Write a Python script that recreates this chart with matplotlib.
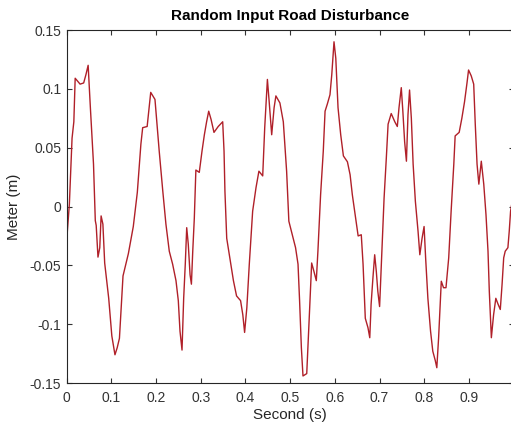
import matplotlib.pyplot as plt

plt.rcParams['font.family'] = ['Liberation Sans', 'DejaVu Sans']

# traced road disturbance (time in s, height in m)
t = [0.000, 0.0015, 0.006, 0.010, 0.012, 0.016, 0.019, 0.030, 0.038, 0.043,
     0.048, 0.053, 0.060, 0.064, 0.066, 0.070, 0.074, 0.077, 0.081, 0.085,
     0.094, 0.101, 0.108, 0.113, 0.118, 0.126, 0.138, 0.149, 0.158, 0.166,
     0.170, 0.180, 0.188, 0.1975, 0.207, 0.215, 0.222, 0.2295, 0.237, 0.2445,
     0.2497, 0.2535, 0.258, 0.2617, 0.2653, 0.2685, 0.272, 0.276, 0.279, 0.282,
     0.2855, 0.289, 0.2966, 0.3027, 0.308, 0.313, 0.3177, 0.323, 0.3295, 0.339,
     0.349, 0.352, 0.354, 0.358, 0.365, 0.373, 0.380, 0.389, 0.394, 0.398,
     0.403, 0.4085, 0.416, 0.4235, 0.430, 0.4385, 0.443, 0.446, 0.449, 0.453,
     0.4586, 0.464, 0.468, 0.477, 0.4846, 0.492, 0.497, 0.5047, 0.512, 0.5175,
     0.521, 0.525, 0.5286, 0.537, 0.540, 0.5436, 0.548, 0.553, 0.5584, 0.562,
     0.568, 0.574, 0.578, 0.583, 0.589, 0.593, 0.598, 0.602, 0.607, 0.613,
     0.619, 0.628, 0.634, 0.639, 0.6465, 0.652, 0.659, 0.663, 0.668, 0.674,
     0.678, 0.681, 0.685, 0.689, 0.6926, 0.696, 0.700, 0.704, 0.710, 0.715,
     0.719, 0.726, 0.734, 0.7396, 0.7434, 0.7485, 0.752, 0.756, 0.760, 0.7635,
     0.767, 0.771, 0.775, 0.780, 0.786, 0.790, 0.795, 0.7995, 0.803, 0.808,
     0.814, 0.819, 0.8246, 0.828, 0.832, 0.838, 0.843, 0.8485, 0.8546, 0.860,
     0.866, 0.869, 0.878, 0.884, 0.890, 0.8955, 0.899, 0.905, 0.9105, 0.914,
     0.918, 0.922, 0.9275, 0.933, 0.938, 0.9425, 0.9454, 0.950, 0.955, 0.960,
     0.965, 0.970, 0.974, 0.9776, 0.981, 0.987, 0.990, 0.993, 1.000]
h = [-0.037, -0.021, 0.002, 0.038, 0.058, 0.072, 0.109, 0.104, 0.105, 0.112,
     0.120, 0.084, 0.036, -0.012, -0.016, -0.043, -0.035, -0.008, -0.015, -0.048,
     -0.078, -0.110, -0.126, -0.120, -0.112, -0.059, -0.040, -0.017, 0.012, 0.053,
     0.067, 0.068, 0.097, 0.091, 0.047, 0.013, -0.015, -0.038, -0.049, -0.063,
     -0.080, -0.106, -0.122, -0.078, -0.049, -0.018, -0.032, -0.058, -0.066, -0.038,
     -0.010, 0.031, 0.029, 0.047, 0.061, 0.072, 0.081, 0.074, 0.063, 0.068,
     0.072, 0.047, 0.013, -0.027, -0.044, -0.063, -0.076, -0.080, -0.092, -0.107,
     -0.086, -0.049, -0.004, 0.016, 0.030, 0.026, 0.067, 0.087, 0.108, 0.089,
     0.061, 0.084, 0.094, 0.088, 0.072, 0.030, -0.0125, -0.024, -0.035, -0.049,
     -0.080, -0.120, -0.144, -0.142, -0.117, -0.086, -0.048, -0.055, -0.063, -0.038,
     0.010, 0.047, 0.081, 0.087, 0.095, 0.112, 0.140, 0.126, 0.084, 0.061,
     0.043, 0.038, 0.027, 0.010, -0.010, -0.025, -0.024, -0.049, -0.095, -0.103,
     -0.1115, -0.083, -0.061, -0.041, -0.055, -0.072, -0.085, -0.049, 0.007, 0.041,
     0.070, 0.079, 0.072, 0.068, 0.084, 0.101, 0.081, 0.055, 0.0385, 0.078,
     0.099, 0.075, 0.036, 0.0045, -0.021, -0.041, -0.027, -0.017, -0.044, -0.078,
     -0.106, -0.123, -0.131, -0.137, -0.1115, -0.0635, -0.069, -0.069, -0.0436, -0.004,
     0.036, 0.060, 0.063, 0.075, 0.089, 0.105, 0.116, 0.111, 0.104, 0.070,
     0.036, 0.019, 0.0385, 0.019, -0.007, -0.038, -0.072, -0.1115, -0.092, -0.078,
     -0.083, -0.0875, -0.066, -0.0436, -0.038, -0.035, -0.021, -0.004, 0.012]

x_ticks = [0, 0.1, 0.2, 0.3, 0.4, 0.5, 0.6, 0.7, 0.8, 0.9, 1]
y_ticks = [-0.15, -0.1, -0.05, 0, 0.05, 0.1, 0.15]

fig = plt.figure(figsize=(5.11, 4.28), dpi=100)
ax = fig.add_axes([0.1305, 0.1051, 0.8748, 0.8248])

ax.plot(t, h, color='#b02029', lw=1.0)

ax.set_xlim(0, 1)
ax.set_ylim(-0.15, 0.15)
ax.set_xticks(x_ticks)
ax.set_xticklabels(['0', '0.1', '0.2', '0.3', '0.4', '0.5', '0.6', '0.7', '0.8', '0.9', '1'])
ax.set_yticks(y_ticks)
ax.set_yticklabels(['-0.15', '-0.1', '-0.05', '0', '0.05', '0.1', '0.15'])
ax.tick_params(direction='in', length=3.5, width=0.8, top=True, right=True,
               labelsize=10, colors='#333333')
ax.tick_params(axis='x', pad=6)
ax.tick_params(axis='y', pad=4)
for s in ax.spines.values():
    s.set_color('#262626')
    s.set_linewidth(0.8)

ax.set_xlabel('Second (s)', fontsize=11, color='#262626', labelpad=2)
ax.set_ylabel('Meter (m)', fontsize=11, color='#262626', labelpad=6)
ax.set_title('Random Input Road Disturbance', fontsize=11, fontweight='bold', pad=7)

fig.savefig('out.png', dpi=100)
plt.close(fig)
